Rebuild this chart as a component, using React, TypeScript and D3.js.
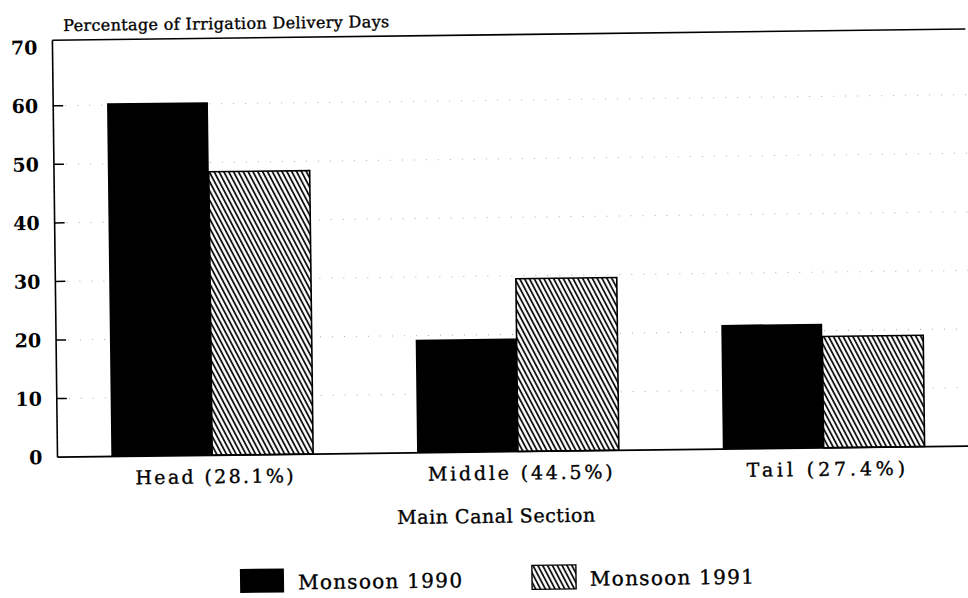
import React, { useEffect, useRef } from 'react';
import * as d3 from 'd3';

// values
const sections = ['Head (28.1%)', 'Middle (44.5%)', 'Tail (27.4%)'];
const seriesNames = ['Monsoon 1990', 'Monsoon 1991'];
const monsoon1990 = [60.3, 19.3, 21.2];
const monsoon1991 = [48.4, 29.5, 19.0];
const yTicks = [0, 10, 20, 30, 40, 50, 60, 70];

const FONT = '"DejaVu Serif", serif';

const App = () => {
  const svgRef = useRef<SVGSVGElement>(null);

  useEffect(() => {
    const svg = d3.select(svgRef.current);
    svg.selectAll('*').remove();

    const width = 968;
    const height = 598;
    const axisX = 55;
    const right = 968;

    const defs = svg.append('defs');
    const pat = defs.append('pattern')
      .attr('id', 'hatch')
      .attr('patternUnits', 'userSpaceOnUse')
      .attr('width', 4.3)
      .attr('height', 20)
      .attr('patternTransform', 'rotate(-27)');
    pat.append('rect').attr('width', 4.3).attr('height', 20).attr('fill', '#fff');
    pat.append('line')
      .attr('x1', 1).attr('x2', 1)
      .attr('y1', 0).attr('y2', 20)
      .attr('stroke', '#000')
      .attr('stroke-width', 1.7);

    svg.append('rect').attr('width', width).attr('height', height).attr('fill', '#fff');

    // the scan is tilted a little
    const g = svg.append('g').attr('transform', 'rotate(-0.7, 480, 250)');

    const x = d3.scaleBand<string>()
      .domain(sections)
      .range([63, right])
      .paddingInner(0.34)
      .paddingOuter(0.15);

    const xSeries = d3.scaleBand<string>()
      .domain(seriesNames)
      .range([0, x.bandwidth()]);

    const y = d3.scaleLinear().domain([0, 70]).range([452, 42]);

    // faint dotted grid
    g.selectAll('.grid')
      .data(yTicks.slice(1, 7))
      .enter().append('line')
      .attr('x1', axisX).attr('x2', right)
      .attr('y1', d => y(d)).attr('y2', d => y(d))
      .attr('stroke', '#aaa')
      .attr('stroke-width', 1)
      .attr('stroke-dasharray', '1 11');

    const rows = sections.map((s, i) => ({ s, vals: [monsoon1990[i], monsoon1991[i]] }));

    const groups = g.selectAll('.grp')
      .data(rows)
      .enter().append('g')
      .attr('transform', d => `translate(${x(d.s)},0)`);

    groups.selectAll('rect')
      .data(d => d.vals.map((v, j) => ({ name: seriesNames[j], v })))
      .enter().append('rect')
      .attr('x', d => xSeries(d.name)!)
      .attr('width', xSeries.bandwidth())
      .attr('y', d => y(d.v))
      .attr('height', d => y(0) - y(d.v))
      .attr('fill', d => d.name === seriesNames[0] ? '#000' : 'url(#hatch)')
      .attr('stroke', '#000')
      .attr('stroke-width', d => d.name === seriesNames[0] ? 0 : 1.6);

    // axes
    g.append('line')
      .attr('x1', axisX).attr('x2', axisX)
      .attr('y1', 35).attr('y2', y(0))
      .attr('stroke', '#000').attr('stroke-width', 1.6);
    g.append('line')
      .attr('x1', axisX).attr('x2', right)
      .attr('y1', 35).attr('y2', 35)
      .attr('stroke', '#000').attr('stroke-width', 1.6);
    g.append('line')
      .attr('x1', axisX).attr('x2', right)
      .attr('y1', y(0)).attr('y2', y(0))
      .attr('stroke', '#000').attr('stroke-width', 1.8);

    g.selectAll('.tick')
      .data(yTicks.slice(1, 7))
      .enter().append('line')
      .attr('x1', axisX).attr('x2', axisX + 10)
      .attr('y1', d => y(d)).attr('y2', d => y(d))
      .attr('stroke', '#000').attr('stroke-width', 1.5);

    g.selectAll('.ylab')
      .data(yTicks)
      .enter().append('text')
      .attr('x', 40)
      .attr('y', d => y(d))
      .attr('dy', '0.36em')
      .attr('text-anchor', 'end')
      .attr('font-family', FONT)
      .attr('font-weight', 'bold')
      .attr('font-size', 19)
      .text(d => d);

    const txt = (sel: any, size: number) => sel
      .attr('font-family', FONT)
      .attr('font-size', size)
      .attr('stroke', '#000')
      .attr('stroke-width', 0.35)
      .attr('lengthAdjust', 'spacing');

    txt(g.append('text'), 16)
      .attr('x', 66)
      .attr('y', 26)
      .attr('textLength', 326)
      .text('Percentage of Irrigation Delivery Days');

    txt(g.selectAll('.xlab')
      .data(sections)
      .enter().append('text'), 19)
      .attr('x', (d: string) => x(d)! + x.bandwidth() / 2 + 2)
      .attr('y', 480)
      .attr('text-anchor', 'middle')
      .attr('textLength', (d: string) => d.length * 13.2)
      .text((d: string) => d);

    txt(g.append('text'), 19)
      .attr('x', 493)
      .attr('y', 523)
      .attr('text-anchor', 'middle')
      .attr('textLength', 198)
      .text('Main Canal Section');

    // legend
    const legendX = [236, 528];
    const legend = g.selectAll('.legend')
      .data(seriesNames)
      .enter().append('g')
      .attr('transform', (d, i) => `translate(${legendX[i]}, 566)`);

    legend.append('rect')
      .attr('width', 44)
      .attr('height', 24)
      .attr('fill', (d, i) => i === 0 ? '#000' : 'url(#hatch)')
      .attr('stroke', '#000')
      .attr('stroke-width', (d, i) => i === 0 ? 0 : 1.4);

    txt(legend.append('text'), 20)
      .attr('x', 58)
      .attr('y', 21)
      .attr('textLength', 164)
      .text((d: string) => d);
  }, []);

  return (
    <svg ref={svgRef} width="968" height="598"
      style={{ position: 'absolute', left: 0, top: 0, display: 'block' }}></svg>
  );
};

export default App;
